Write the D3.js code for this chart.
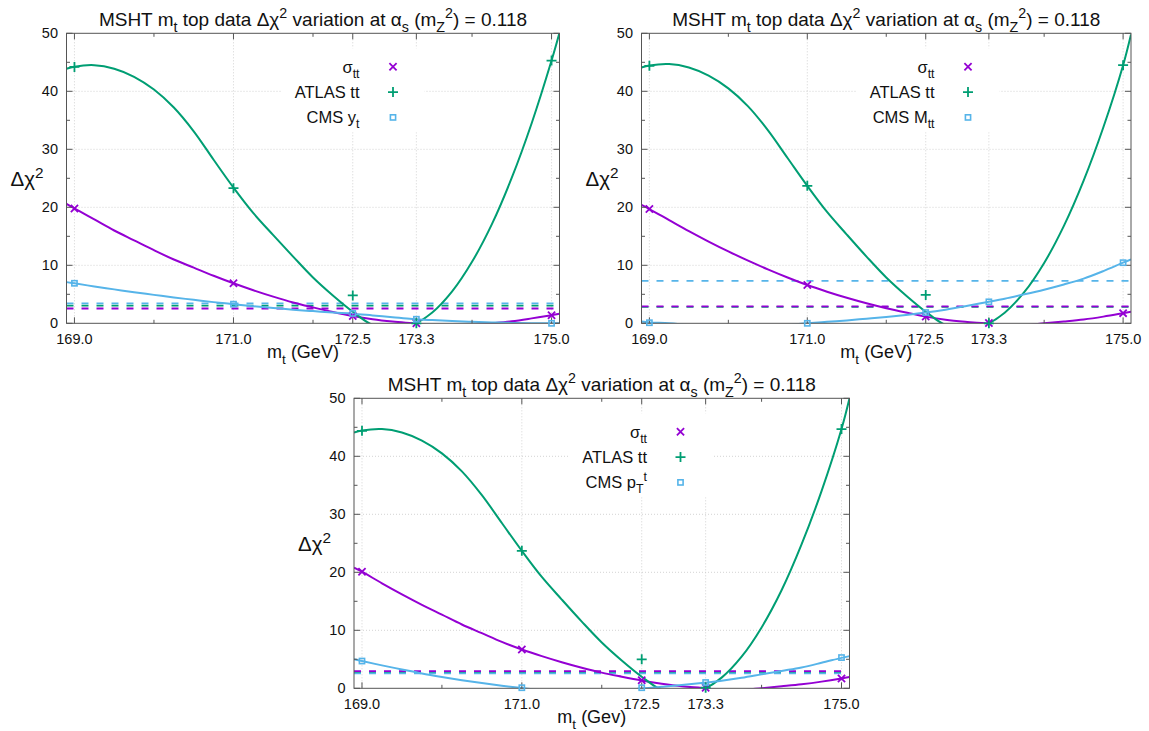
<!DOCTYPE html>
<html>
<head>
<meta charset="utf-8">
<script src="https://cdn.jsdelivr.net/npm/d3@7"></script>
<style>
  html, body { margin: 0; padding: 0; background: #fff; }
  svg { display: block; font-family: "Liberation Sans", Arial, Helvetica, sans-serif; }
</style>
</head>
<body>
<svg id="chart" width="1149" height="731"></svg>
<script>
// ---- data ----------------------------------------------------------
const massPoints = [169.0, 171.0, 172.5, 173.3, 175.0];
const xTickValues = [169.0, 171.0, 172.5, 173.3, 175.0];
const xTickLabels = ["169.0", "171.0", "172.5", "173.3", "175.0"];
const xMinorTicks = [170.0, 172.0, 174.0];
const yTickValues = [0, 10, 20, 30, 40, 50];
const yMinorTicks = [5, 15, 25, 35, 45];

// Δχ² at each m_t point — fit with CMS y_t
const sigmaTT_yt = [19.8, 6.9, 1.25, 0.0, 1.4];
const atlasTT_yt = [44.2, 23.3, 4.8, 0.0, 45.3];
const cmsYt      = [6.9, 3.3, 1.7, 0.7, 0.0];
const tolerance_yt = [2.55, 3.05, 3.45];   // sigma_tt, ATLAS tt, CMS

// fit with CMS M_tt
const sigmaTT_mtt = [19.7, 6.6, 1.15, 0.05, 1.75];
const atlasTT_mtt = [44.4, 23.7, 4.9, 0.0, 44.5];
const cmsMtt      = [0.1, 0.0, 1.85, 3.7, 10.45];
const tolerance_mtt = [2.92, 2.84, 7.3];

// fit with CMS pT^t
const sigmaTT_pt = [20.1, 6.7, 1.4, 0.1, 1.7];
const atlasTT_pt = [44.4, 23.7, 5.0, 0.1, 44.7];
const cmsPt      = [4.7, 0.1, 0.1, 1.0, 5.3];
const tolerance_pt = [2.95, 2.64, 2.58];

// smooth parametrisations of Δχ²(m_t), sampled on a common mass grid
const fitMassGrid = [168.9, 169.0, 169.25, 169.5, 169.75, 170.0, 170.25, 170.5, 170.75,
  171.0, 171.25, 171.5, 171.75, 172.0, 172.25, 172.5, 172.75, 173.0, 173.25,
  173.5, 173.75, 174.0, 174.25, 174.5, 174.75, 175.0, 175.1];

const sigmaFit_yt = [20.6, 19.8, 17.9, 16.0, 14.3, 12.6, 11.0, 9.6, 8.2,
  6.9, 5.7, 4.6, 3.6, 2.75, 1.95, 1.25, 0.7, 0.3, 0.0,
  -0.3, -0.4, -0.3, 0.0, 0.35, 0.85, 1.4, 1.65];
const atlasFit_yt = [43.9, 44.25, 44.5, 43.9, 42.5, 40.3, 37.2, 33.1, 28.2,
  23.4, 19.0, 15.2, 11.5, 7.9, 4.8, 2.0, -0.3, -1.0, -0.3,
  1.86, 5.5, 10.6, 17.1, 25.1, 34.5, 45.3, 50.1];
const cmsFit_yt = [7.1, 6.9, 6.35, 5.85, 5.35, 4.9, 4.45, 4.05, 3.65,
  3.3, 2.95, 2.65, 2.35, 2.1, 1.85, 1.65, 1.35, 1.05, 0.75,
  0.55, 0.38, 0.25, 0.15, 0.07, 0.02, 0.0, 0.0];

const sigmaFit_mtt = [20.4, 19.7, 17.8, 15.9, 14.1, 12.4, 10.8, 9.3, 7.9,
  6.6, 5.45, 4.4, 3.45, 2.6, 1.85, 1.15, 0.6, 0.25, 0.0,
  -0.28, -0.3, 0.0, 0.3, 0.65, 1.15, 1.75, 2.0];
const atlasFit_mtt = [44.1, 44.45, 44.7, 44.1, 42.7, 40.5, 37.4, 33.3, 28.5,
  23.7, 19.2, 15.3, 11.5, 7.9, 4.8, 2.0, -0.3, -1.0, -0.3,
  1.83, 5.4, 10.4, 16.8, 24.6, 33.8, 44.5, 49.8];
const cmsFit_mtt = [0.3, 0.15, 0.0, -0.3, -0.5, -0.6, -0.6, -0.5, -0.3,
  0.0, 0.25, 0.5, 0.8, 1.1, 1.45, 1.85, 2.35, 2.95, 3.6,
  4.25, 5.0, 5.8, 6.7, 7.7, 9.0, 10.45, 11.0];

const sigmaFit_pt = [20.8, 20.1, 18.1, 16.2, 14.4, 12.7, 11.0, 9.5, 8.0,
  6.7, 5.55, 4.5, 3.55, 2.7, 2.0, 1.35, 0.8, 0.35, 0.05,
  -0.28, -0.3, 0.02, 0.35, 0.7, 1.15, 1.7, 1.95];
const atlasFit_pt = [44.1, 44.45, 44.7, 44.1, 42.7, 40.5, 37.4, 33.3, 28.5,
  23.7, 19.2, 15.3, 11.5, 7.9, 4.8, 2.0, -0.3, -1.0, -0.3,
  1.84, 5.45, 10.5, 16.9, 24.8, 34.0, 44.7, 50.0];
const cmsFit_pt = [5.0, 4.7, 3.95, 3.25, 2.55, 1.95, 1.4, 0.9, 0.45,
  0.05, -0.3, -0.55, -0.65, -0.6, -0.4, -0.05, 0.25, 0.55, 0.9,
  1.3, 1.8, 2.4, 3.0, 3.6, 4.4, 5.25, 5.55];

const seriesColors = ["#9400d3", "#009e73", "#56b4e9"];
const markerKinds = ["cross", "plus", "square"];

// ---- panels --------------------------------------------------------
const panels = [
  { left: 66.5, right: 559.5, top: 33.3, bottom: 323.3,
    series: [sigmaTT_yt, atlasTT_yt, cmsYt], fits: [sigmaFit_yt, atlasFit_yt, cmsFit_yt], tol: tolerance_yt,
    legend: [[["σ"],["tt","sub"]], [["ATLAS tt"]], [["CMS y"],["t","sub"]]],
    xlabel: [["m"],["t","sub"],[" (GeV)"]] },
  { left: 641.5, right: 1131, top: 33.3, bottom: 323.3,
    series: [sigmaTT_mtt, atlasTT_mtt, cmsMtt], fits: [sigmaFit_mtt, atlasFit_mtt, cmsFit_mtt], tol: tolerance_mtt,
    legend: [[["σ"],["tt","sub"]], [["ATLAS tt"]], [["CMS M"],["tt","sub"]]],
    xlabel: [["m"],["t","sub"],[" (GeV)"]] },
  { left: 354, right: 849.5, top: 398.3, bottom: 688.3,
    series: [sigmaTT_pt, atlasTT_pt, cmsPt], fits: [sigmaFit_pt, atlasFit_pt, cmsFit_pt], tol: tolerance_pt,
    legend: [[["σ"],["tt","sub"]], [["ATLAS tt"]], [["CMS p"],["T","sub"],["t","sup"]]],
    xlabel: [["m"],["t","sub"],[" (Gev)"]] }
];

const titleParts = [["MSHT m"],["t","sub"],[" top data Δχ"],["2","sup"],[" variation at α"],["s","sub"],
  [" (m"],["Z","sub"],["2","sup"],[") = 0.118"]];

// writes a run of text segments with sub/superscripts into a <text>
function richText(sel, parts, size) {
  let offset = 0;
  parts.forEach(([t, kind]) => {
    let target = 0, fs = size;
    if (kind === "sub") { target = 0.3 * size; fs = 0.75 * size; }
    else if (kind === "sup") { target = -0.42 * size; fs = 0.75 * size; }
    sel.append("tspan").attr("dy", target - offset).attr("font-size", fs).text(t);
    offset = target;
  });
}

function drawMarker(g, kind, cx, cy, color) {
  if (kind === "cross") {
    const s = 3.6;
    g.append("path").attr("d", `M${cx-s},${cy-s}L${cx+s},${cy+s}M${cx-s},${cy+s}L${cx+s},${cy-s}`)
      .attr("stroke", color).attr("stroke-width", 1.8).attr("fill", "none");
  } else if (kind === "plus") {
    const s = 5;
    g.append("path").attr("d", `M${cx-s},${cy}L${cx+s},${cy}M${cx},${cy-s}L${cx},${cy+s}`)
      .attr("stroke", color).attr("stroke-width", 1.8).attr("fill", "none");
  } else {
    const s = 2.6;
    g.append("rect").attr("x", cx - s).attr("y", cy - s).attr("width", 2 * s).attr("height", 2 * s)
      .attr("stroke", color).attr("stroke-width", 1.6).attr("fill", "none");
  }
}

const svg = d3.select("#chart");
const axisColor = "#555";
const gridColor = "#c8c8c8";

panels.forEach((p, pi) => {
  const g = svg.append("g");
  const x = d3.scaleLinear().domain([168.9, 175.1]).range([p.left, p.right]);
  const y = d3.scaleLinear().domain([0, 50]).range([p.bottom, p.top]);

  const clipId = "clip" + pi;
  svg.append("clipPath").attr("id", clipId).append("rect")
    .attr("x", p.left).attr("y", p.top).attr("width", p.right - p.left).attr("height", p.bottom - p.top);

  // grid
  const grid = g.append("g").attr("stroke", gridColor).attr("stroke-width", 0.8).attr("stroke-dasharray", "1,2");
  yTickValues.filter(v => v > 0 && v < 50).forEach(v => {
    grid.append("line").attr("x1", p.left).attr("x2", p.right).attr("y1", y(v)).attr("y2", y(v));
  });
  xTickValues.forEach(v => {
    grid.append("line").attr("x1", x(v)).attr("x2", x(v)).attr("y1", p.top).attr("y2", p.bottom);
  });

  // key background
  g.append("rect").attr("x", p.left + 215).attr("y", p.top + 15)
    .attr("width", 143).attr("height", 84).attr("fill", "#fff");

  // tolerance lines
  const dashed = g.append("g").attr("clip-path", `url(#${clipId})`);
  [1, 2, 0].forEach(si => {
    const t = p.tol[si];
    dashed.append("line").attr("x1", p.left).attr("x2", p.right).attr("y1", y(t)).attr("y2", y(t))
      .attr("stroke", seriesColors[si]).attr("stroke-width", 1.8).attr("stroke-dasharray", "7,8");
  });

  // fitted curves
  const curves = g.append("g").attr("clip-path", `url(#${clipId})`);
  const line = d3.line().curve(d3.curveCatmullRom.alpha(0.5)).x(d => x(d[0])).y(d => y(d[1]));
  p.fits.forEach((vals, si) => {
    curves.append("path").datum(fitMassGrid.map((m, i) => [m, vals[i]])).attr("d", line)
      .attr("fill", "none").attr("stroke", seriesColors[si]).attr("stroke-width", 2);
  });

  // border
  g.append("rect").attr("x", p.left).attr("y", p.top).attr("width", p.right - p.left).attr("height", p.bottom - p.top)
    .attr("fill", "none").attr("stroke", axisColor).attr("stroke-width", 1);

  // ticks
  const ticks = g.append("g").attr("stroke", axisColor).attr("stroke-width", 1);
  const xt = xTickValues.map(v => [v, 6]).concat(xMinorTicks.map(v => [v, 3.5]));
  xt.forEach(([v, len]) => {
    ticks.append("line").attr("x1", x(v)).attr("x2", x(v)).attr("y1", p.bottom).attr("y2", p.bottom - len);
    ticks.append("line").attr("x1", x(v)).attr("x2", x(v)).attr("y1", p.top).attr("y2", p.top + len);
  });
  const yt = yTickValues.map(v => [v, 6]).concat(yMinorTicks.map(v => [v, 3.5]));
  yt.forEach(([v, len]) => {
    ticks.append("line").attr("x1", p.left).attr("x2", p.left + len).attr("y1", y(v)).attr("y2", y(v));
    ticks.append("line").attr("x1", p.right).attr("x2", p.right - len).attr("y1", y(v)).attr("y2", y(v));
  });

  // tick labels
  xTickValues.forEach((v, i) => {
    g.append("text").attr("x", x(v)).attr("y", p.bottom + 21).attr("text-anchor", "middle")
      .attr("font-size", 14.5).attr("fill", "#111").text(xTickLabels[i]);
  });
  yTickValues.forEach(v => {
    g.append("text").attr("x", p.left - 8.5).attr("y", y(v) + 5).attr("text-anchor", "end")
      .attr("font-size", 14.5).attr("fill", "#111").text(v);
  });

  // axis titles
  const xl = g.append("text").attr("x", (p.left + p.right) / 2 - 10).attr("y", p.bottom + 35)
    .attr("text-anchor", "middle").attr("font-size", 18).attr("fill", "#111");
  richText(xl, p.xlabel, 18);
  const yl = g.append("text").attr("x", p.left - 56).attr("y", p.top + 153)
    .attr("font-size", 20.5).attr("fill", "#111");
  richText(yl, [["Δχ"],["2","sup"]], 20.5);

  // title
  const tt = g.append("text").attr("x", (p.left + p.right) / 2).attr("y", p.top - 7)
    .attr("text-anchor", "middle").attr("font-size", 19).attr("fill", "#111");
  richText(tt, titleParts, 19);

  // data points
  const pts = g.append("g");
  p.series.forEach((vals, si) => {
    vals.forEach((v, i) => drawMarker(pts, markerKinds[si], x(massPoints[i]), y(v), seriesColors[si]));
  });

  // key
  p.legend.forEach((parts, si) => {
    const cy = p.top + 33.5 + si * 25.3;
    const lt = g.append("text").attr("x", p.left + 293).attr("y", cy + 6)
      .attr("text-anchor", "end").attr("font-size", 16.5).attr("fill", "#111");
    richText(lt, parts, 16.5);
    drawMarker(g, markerKinds[si], p.left + 326.5, cy, seriesColors[si]);
  });
});
</script>
</body>
</html>
